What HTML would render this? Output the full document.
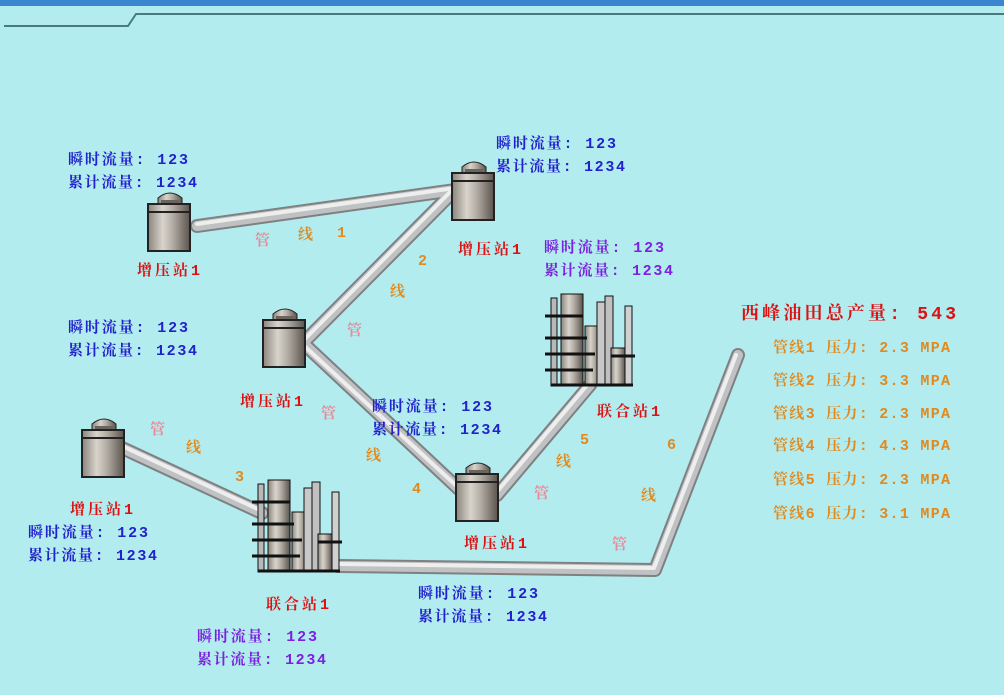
<!DOCTYPE html>
<html><head><meta charset="utf-8"><style>
html,body{margin:0;padding:0;background:#b2ecee;}
svg{display:block}
text{font-family:"Liberation Mono","Noto Serif CJK SC",serif;font-weight:bold;font-size:15px}
.b{fill:#2222cc}.p{fill:#7a22dd}.r{fill:#dd1111}.o{fill:#e08a20}.k{fill:#e88a9a}
</style></head><body>
<svg width="1004" height="695" viewBox="0 0 1004 695" xmlns="http://www.w3.org/2000/svg">
<defs>
<linearGradient id="tg" x1="0" x2="1" y1="0" y2="0">
<stop offset="0" stop-color="#8a847c"/><stop offset="0.35" stop-color="#d8d4cc"/><stop offset="0.6" stop-color="#b0aaa2"/><stop offset="1" stop-color="#5a544c"/></linearGradient>
<g id="tank">
<path d="M10 20 L10 8 Q22 -2 34 8 L34 20 Z" fill="url(#tg)" stroke="#222" stroke-width="1"/>
<rect x="13" y="10" width="18" height="7" fill="#6a645c"/>
<rect x="0" y="14" width="42" height="47" fill="url(#tg)" stroke="#222" stroke-width="2"/>
<line x1="0" y1="22" x2="42" y2="22" stroke="#222" stroke-width="2"/>
</g>
<g id="ref" stroke="#111" stroke-width="1">
<rect x="6" y="10" width="6" height="88" fill="#b8b8b8"/>
<rect x="16" y="6" width="22" height="92" fill="url(#tg)"/>
<rect x="40" y="38" width="16" height="60" fill="url(#tg)"/>
<rect x="52" y="14" width="8" height="84" fill="#c8c8c8"/>
<rect x="60" y="8" width="8" height="90" fill="#c0c0c0"/>
<rect x="66" y="60" width="14" height="38" fill="url(#tg)"/>
<rect x="80" y="18" width="7" height="80" fill="#d0d0d0"/>
<g stroke-width="3"><line x1="0" y1="28" x2="38" y2="28"/><line x1="0" y1="50" x2="42" y2="50"/><line x1="0" y1="66" x2="50" y2="66"/><line x1="0" y1="82" x2="48" y2="82"/><line x1="66" y1="68" x2="90" y2="68"/><line x1="6" y1="97" x2="88" y2="97"/></g>
</g>
</defs>
<rect x="0" y="0" width="1004" height="6" fill="#3a86d0"/>
<polyline points="4,26 128,26 136,14 1004,14" fill="none" stroke="#4a7a80" stroke-width="2"/>
<g fill="none" stroke-linecap="round" stroke-linejoin="round">
<g stroke="#7e8082" stroke-width="14">
<polyline points="197,226 455,190"/><polyline points="455,190 303,343 462,492"/><polyline points="120,447 262,513"/><polyline points="497,495 590,385"/><polyline points="338,566 655,570 738,355"/></g>
<g stroke="#bfc1c3" stroke-width="10">
<polyline points="197,226 455,190"/><polyline points="455,190 303,343 462,492"/><polyline points="120,447 262,513"/><polyline points="497,495 590,385"/><polyline points="338,566 655,570 738,355"/></g>
<g stroke="#eeeeee" stroke-width="4">
<polyline points="197,224 455,188"/><polyline points="454,188 301,343 461,490"/><polyline points="120,445 262,511"/><polyline points="495,494 588,384"/><polyline points="338,564 654,568 736,355"/></g>
</g>
<use href="#tank" x="148" y="190"/>
<use href="#tank" x="452" y="159"/>
<use href="#tank" x="263" y="306"/>
<use href="#tank" x="82" y="416"/>
<use href="#tank" x="456" y="460"/>
<use href="#ref" x="545" y="288"/>
<use href="#ref" x="252" y="474"/>
<g>
<text class="b" x="68" y="164" textLength="120">瞬时流量: 123</text><text class="b" x="68" y="187" textLength="129">累计流量: 1234</text>
<text class="b" x="496" y="148" textLength="120">瞬时流量: 123</text><text class="b" x="496" y="171" textLength="129">累计流量: 1234</text>
<text class="p" x="544" y="252" textLength="120">瞬时流量: 123</text><text class="p" x="544" y="275" textLength="129">累计流量: 1234</text>
<text class="b" x="68" y="332" textLength="120">瞬时流量: 123</text><text class="b" x="68" y="355" textLength="129">累计流量: 1234</text>
<text class="b" x="372" y="411" textLength="120">瞬时流量: 123</text><text class="b" x="372" y="434" textLength="129">累计流量: 1234</text>
<text class="b" x="28" y="537" textLength="120">瞬时流量: 123</text><text class="b" x="28" y="560" textLength="129">累计流量: 1234</text>
<text class="b" x="418" y="598" textLength="120">瞬时流量: 123</text><text class="b" x="418" y="621" textLength="129">累计流量: 1234</text>
<text class="p" x="197" y="641" textLength="120">瞬时流量: 123</text><text class="p" x="197" y="664" textLength="129">累计流量: 1234</text>
</g>
<text class="r" x="137" y="275" textLength="63">增压站1</text>
<text class="r" x="458" y="254" textLength="63">增压站1</text>
<text class="r" x="240" y="406" textLength="63">增压站1</text>
<text class="r" x="70" y="514" textLength="63">增压站1</text>
<text class="r" x="464" y="548" textLength="63">增压站1</text>
<text class="r" x="597" y="416" textLength="63">联合站1</text>
<text class="r" x="266" y="609" textLength="63">联合站1</text>
<text class="k" x="255" y="245">管</text><text class="o" x="298" y="239">线</text><text class="o" x="337" y="237">1</text>
<text class="o" x="418" y="265">2</text><text class="o" x="390" y="296">线</text><text class="k" x="347" y="335">管</text>
<text class="k" x="321" y="418">管</text><text class="o" x="366" y="460">线</text><text class="o" x="412" y="493">4</text>
<text class="k" x="150" y="434">管</text><text class="o" x="186" y="452">线</text><text class="o" x="235" y="481">3</text>
<text class="o" x="580" y="444">5</text><text class="o" x="556" y="466">线</text><text class="k" x="534" y="498">管</text>
<text class="o" x="667" y="449">6</text><text class="o" x="641" y="500">线</text><text class="k" x="612" y="549">管</text>
<text class="r" x="741" y="319" style="font-size:18px" textLength="215">西峰油田总产量: 543</text>
<text class="o" x="773" y="352" textLength="177">管线1 压力: 2.3 MPA</text>
<text class="o" x="773" y="385" textLength="177">管线2 压力: 3.3 MPA</text>
<text class="o" x="773" y="418" textLength="177">管线3 压力: 2.3 MPA</text>
<text class="o" x="773" y="450" textLength="177">管线4 压力: 4.3 MPA</text>
<text class="o" x="773" y="484" textLength="177">管线5 压力: 2.3 MPA</text>
<text class="o" x="773" y="518" textLength="177">管线6 压力: 3.1 MPA</text>
</svg>
</body></html>
